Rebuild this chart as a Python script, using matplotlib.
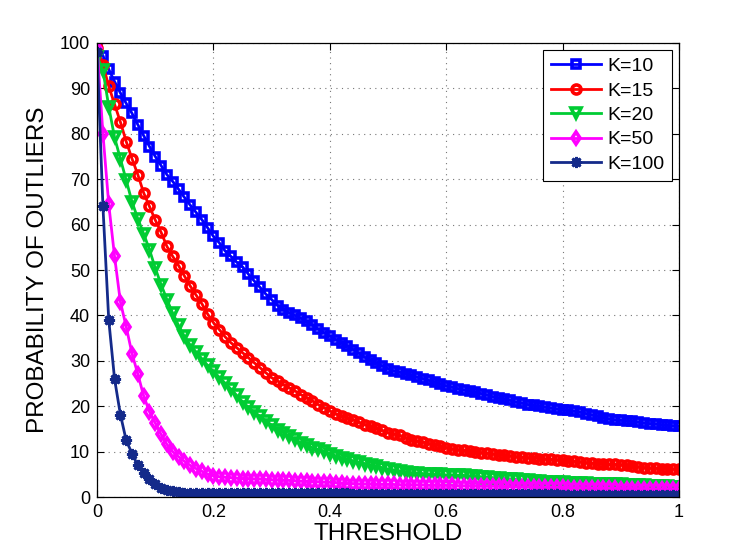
#!/usr/bin/env python3
"""Probability of outliers vs threshold for several K (MATLAB-style line chart)."""
import numpy as np
import matplotlib

matplotlib.use("Agg")
import matplotlib.pyplot as plt

plt.rcParams["font.family"] = ["Liberation Sans", "DejaVu Sans"]

# threshold grid (0 .. 1 in steps of 0.01)
THRESHOLD = np.linspace(0.0, 1.0, 101)

K10 = [99.5, 97.2, 94.2, 91.5, 89.0, 86.7, 84.5, 82.0, 79.6, 77.2,
       75.0, 73.0, 71.0, 69.5, 67.8, 66.0, 64.3, 62.7, 61.1, 59.3,
       57.4, 56.0, 54.2, 53.0, 51.7, 50.7, 49.1, 47.6, 46.2, 44.7,
       43.5, 42.2, 41.3, 40.6, 40.0, 39.4, 38.7, 37.9, 37.0, 36.2,
       35.5, 34.7, 34.0, 33.3, 32.5, 31.7, 30.8, 30.1, 29.5, 28.9,
       28.3, 27.8, 27.5, 27.2, 26.8, 26.4, 26.1, 25.7, 25.3, 24.9,
       24.5, 24.2, 23.9, 23.6, 23.4, 23.1, 22.8, 22.5, 22.1, 21.8,
       21.6, 21.3, 20.9, 20.7, 20.4, 20.2, 20.0, 19.8, 19.6, 19.4,
       19.3, 19.1, 18.9, 18.7, 18.4, 18.1, 17.8, 17.5, 17.2, 17.0,
       16.9, 16.8, 16.7, 16.5, 16.3, 16.2, 16.1, 15.9, 15.8, 15.7,
       15.6]

K15 = [99.0, 95.2, 90.5, 86.5, 82.6, 78.3, 74.5, 71.0, 67.0, 64.0,
       61.0, 58.3, 55.2, 53.0, 51.0, 48.7, 46.5, 44.5, 42.6, 40.3,
       38.4, 36.9, 35.3, 34.0, 32.9, 31.8, 30.7, 29.6, 28.5, 27.4,
       26.3, 25.6, 24.8, 24.1, 23.4, 22.6, 21.9, 21.2, 20.4, 19.7,
       19.0, 18.3, 17.9, 17.5, 17.1, 16.5, 16.0, 15.6, 15.2, 14.7,
       14.2, 13.9, 13.6, 13.1, 12.6, 12.3, 12.1, 11.8, 11.5, 11.3,
       10.9, 10.6, 10.4, 10.3, 10.1, 9.9, 9.8, 9.7, 9.5, 9.3,
       9.2, 9.1, 8.9, 8.8, 8.7, 8.7, 8.5, 8.4, 8.3, 8.2,
       8.1, 8.0, 7.9, 7.8, 7.6, 7.5, 7.4, 7.3, 7.2, 7.2,
       7.1, 7.0, 6.9, 6.7, 6.5, 6.4, 6.4, 6.3, 6.3, 6.2,
       6.2]

K20 = [97.0, 94.0, 86.0, 79.2, 74.5, 69.8, 65.0, 61.3, 58.0, 54.5,
       50.4, 46.8, 43.5, 40.5, 37.8, 35.4, 33.5, 32.0, 30.5, 29.0,
       27.7, 26.4, 25.1, 23.8, 22.4, 21.0, 19.8, 18.7, 17.8, 16.8,
       15.8, 14.9, 14.2, 13.5, 12.7, 12.0, 11.4, 10.9, 10.5, 10.1,
       9.6, 9.1, 8.7, 8.4, 8.0, 7.7, 7.4, 7.1, 6.8, 6.5,
       6.2, 6.0, 5.8, 5.6, 5.4, 5.3, 5.2, 5.1, 5.0, 5.0,
       4.9, 4.9, 4.8, 4.8, 4.7, 4.6, 4.5, 4.4, 4.3, 4.2,
       4.1, 4.0, 3.9, 3.8, 3.7, 3.6, 3.5, 3.4, 3.4, 3.3,
       3.3, 3.2, 3.2, 3.1, 3.1, 3.0, 3.0, 2.9, 2.9, 2.8,
       2.8, 2.7, 2.7, 2.6, 2.6, 2.5, 2.5, 2.4, 2.4, 2.3,
       2.3]

K50 = [99.0, 80.0, 64.5, 53.0, 43.0, 37.5, 31.6, 27.1, 22.3, 18.8,
       16.3, 13.8, 11.6, 10.0, 8.9, 7.9, 7.0, 6.3, 5.7, 5.1,
       4.7, 4.5, 4.4, 4.3, 4.2, 4.1, 4.1, 4.0, 4.0, 3.9,
       3.8, 3.8, 3.7, 3.7, 3.6, 3.5, 3.5, 3.4, 3.4, 3.3,
       3.3, 3.2, 3.1, 3.0, 3.0, 2.9, 2.9, 2.9, 2.8, 2.8,
       2.8, 2.8, 2.7, 2.7, 2.7, 2.7, 2.7, 2.6, 2.6, 2.6,
       2.6, 2.6, 2.5, 2.5, 2.5, 2.5, 2.4, 2.4, 2.4, 2.4,
       2.4, 2.3, 2.3, 2.3, 2.3, 2.3, 2.2, 2.2, 2.2, 2.2,
       2.2, 2.1, 2.1, 2.1, 2.1, 2.0, 2.0, 2.0, 2.0, 2.0,
       1.9, 1.9, 1.9, 1.9, 1.9, 1.8, 1.8, 1.8, 1.8, 1.8,
       1.8]

K100 = [98.0, 64.0, 39.0, 26.0, 18.2, 12.5, 9.6, 7.0, 5.3, 3.9,
        2.8, 2.1, 1.6, 1.3, 1.1, 1.0, 1.0, 1.0, 1.0, 1.0,
        1.0, 1.0, 1.0, 1.0, 1.0, 1.0, 1.0, 0.9, 0.9, 0.9,
        0.9, 0.9, 0.9, 0.9, 0.9, 0.9, 0.9, 0.9, 0.9, 0.9,
        0.9, 0.9, 0.9, 0.9, 0.8, 0.8, 0.8, 0.8, 0.8, 0.8,
        0.8, 0.8, 0.8, 0.8, 0.8, 0.8, 0.7, 0.7, 0.7, 0.7,
        0.7, 0.7, 0.7, 0.7, 0.7, 0.7, 0.7, 0.7, 0.7, 0.6,
        0.6, 0.6, 0.6, 0.6, 0.6, 0.6, 0.6, 0.6, 0.6, 0.6,
        0.5, 0.5, 0.5, 0.5, 0.5, 0.5, 0.5, 0.5, 0.5, 0.5,
        0.5, 0.5, 0.5, 0.5, 0.4, 0.4, 0.4, 0.4, 0.4, 0.4,
        0.4]

LABELS = ["K=10", "K=15", "K=20", "K=50", "K=100"]

# (color, marker, marker size, edge width) per series, MATLAB-ish
STYLES = [
    ("#0000FF", "s", 5.5, 2.6),
    ("#FF0000", "o", 6.5, 2.6),
    ("#00CC33", "v", 7.0, 2.6),
    ("#FF00FF", "d", 6.5, 2.6),
    ("#142A8A", (8, 2, 0), 8.0, 2.0),
]


def main():
    fig = plt.figure(figsize=(7.47, 5.58), dpi=100)
    ax = fig.add_axes([0.130, 0.109, 0.779, 0.814])

    for ys, lab, (col, mk, ms, mw) in zip([K10, K15, K20, K50, K100], LABELS, STYLES):
        ax.plot(THRESHOLD, ys, color=col, lw=2.0, marker=mk, ms=ms,
                mfc="none", mec=col, mew=mw, label=lab)

    ax.set_xlim(0, 1)
    ax.set_ylim(0, 100)
    ax.set_xticks([0, 0.2, 0.4, 0.6, 0.8, 1.0])
    ax.set_xticklabels(["0", "0.2", "0.4", "0.6", "0.8", "1"])
    ax.set_yticks(np.arange(0, 101, 10))

    ax.tick_params(direction="in", top=True, right=True, labelsize=13,
                   length=5, width=0.8, pad=5)
    ax.grid(True, linestyle=(0, (1, 4)), color="#777777", lw=0.8)
    for s in ax.spines.values():
        s.set_linewidth(0.9)

    ax.set_xlabel("THRESHOLD", fontsize=17.5, labelpad=1)
    ax.set_ylabel("PROBABILITY OF OUTLIERS", fontsize=17.5, labelpad=8)

    leg = ax.legend(loc="upper right", fontsize=14, fancybox=False,
                    framealpha=1.0, edgecolor="black", handlelength=2.6,
                    labelspacing=0.35, borderpad=0.4, handletextpad=0.3,
                    borderaxespad=0.35)
    leg.get_frame().set_linewidth(0.8)

    fig.savefig("out.png", dpi=100, facecolor="white")
    plt.close(fig)


if __name__ == "__main__":
    main()
